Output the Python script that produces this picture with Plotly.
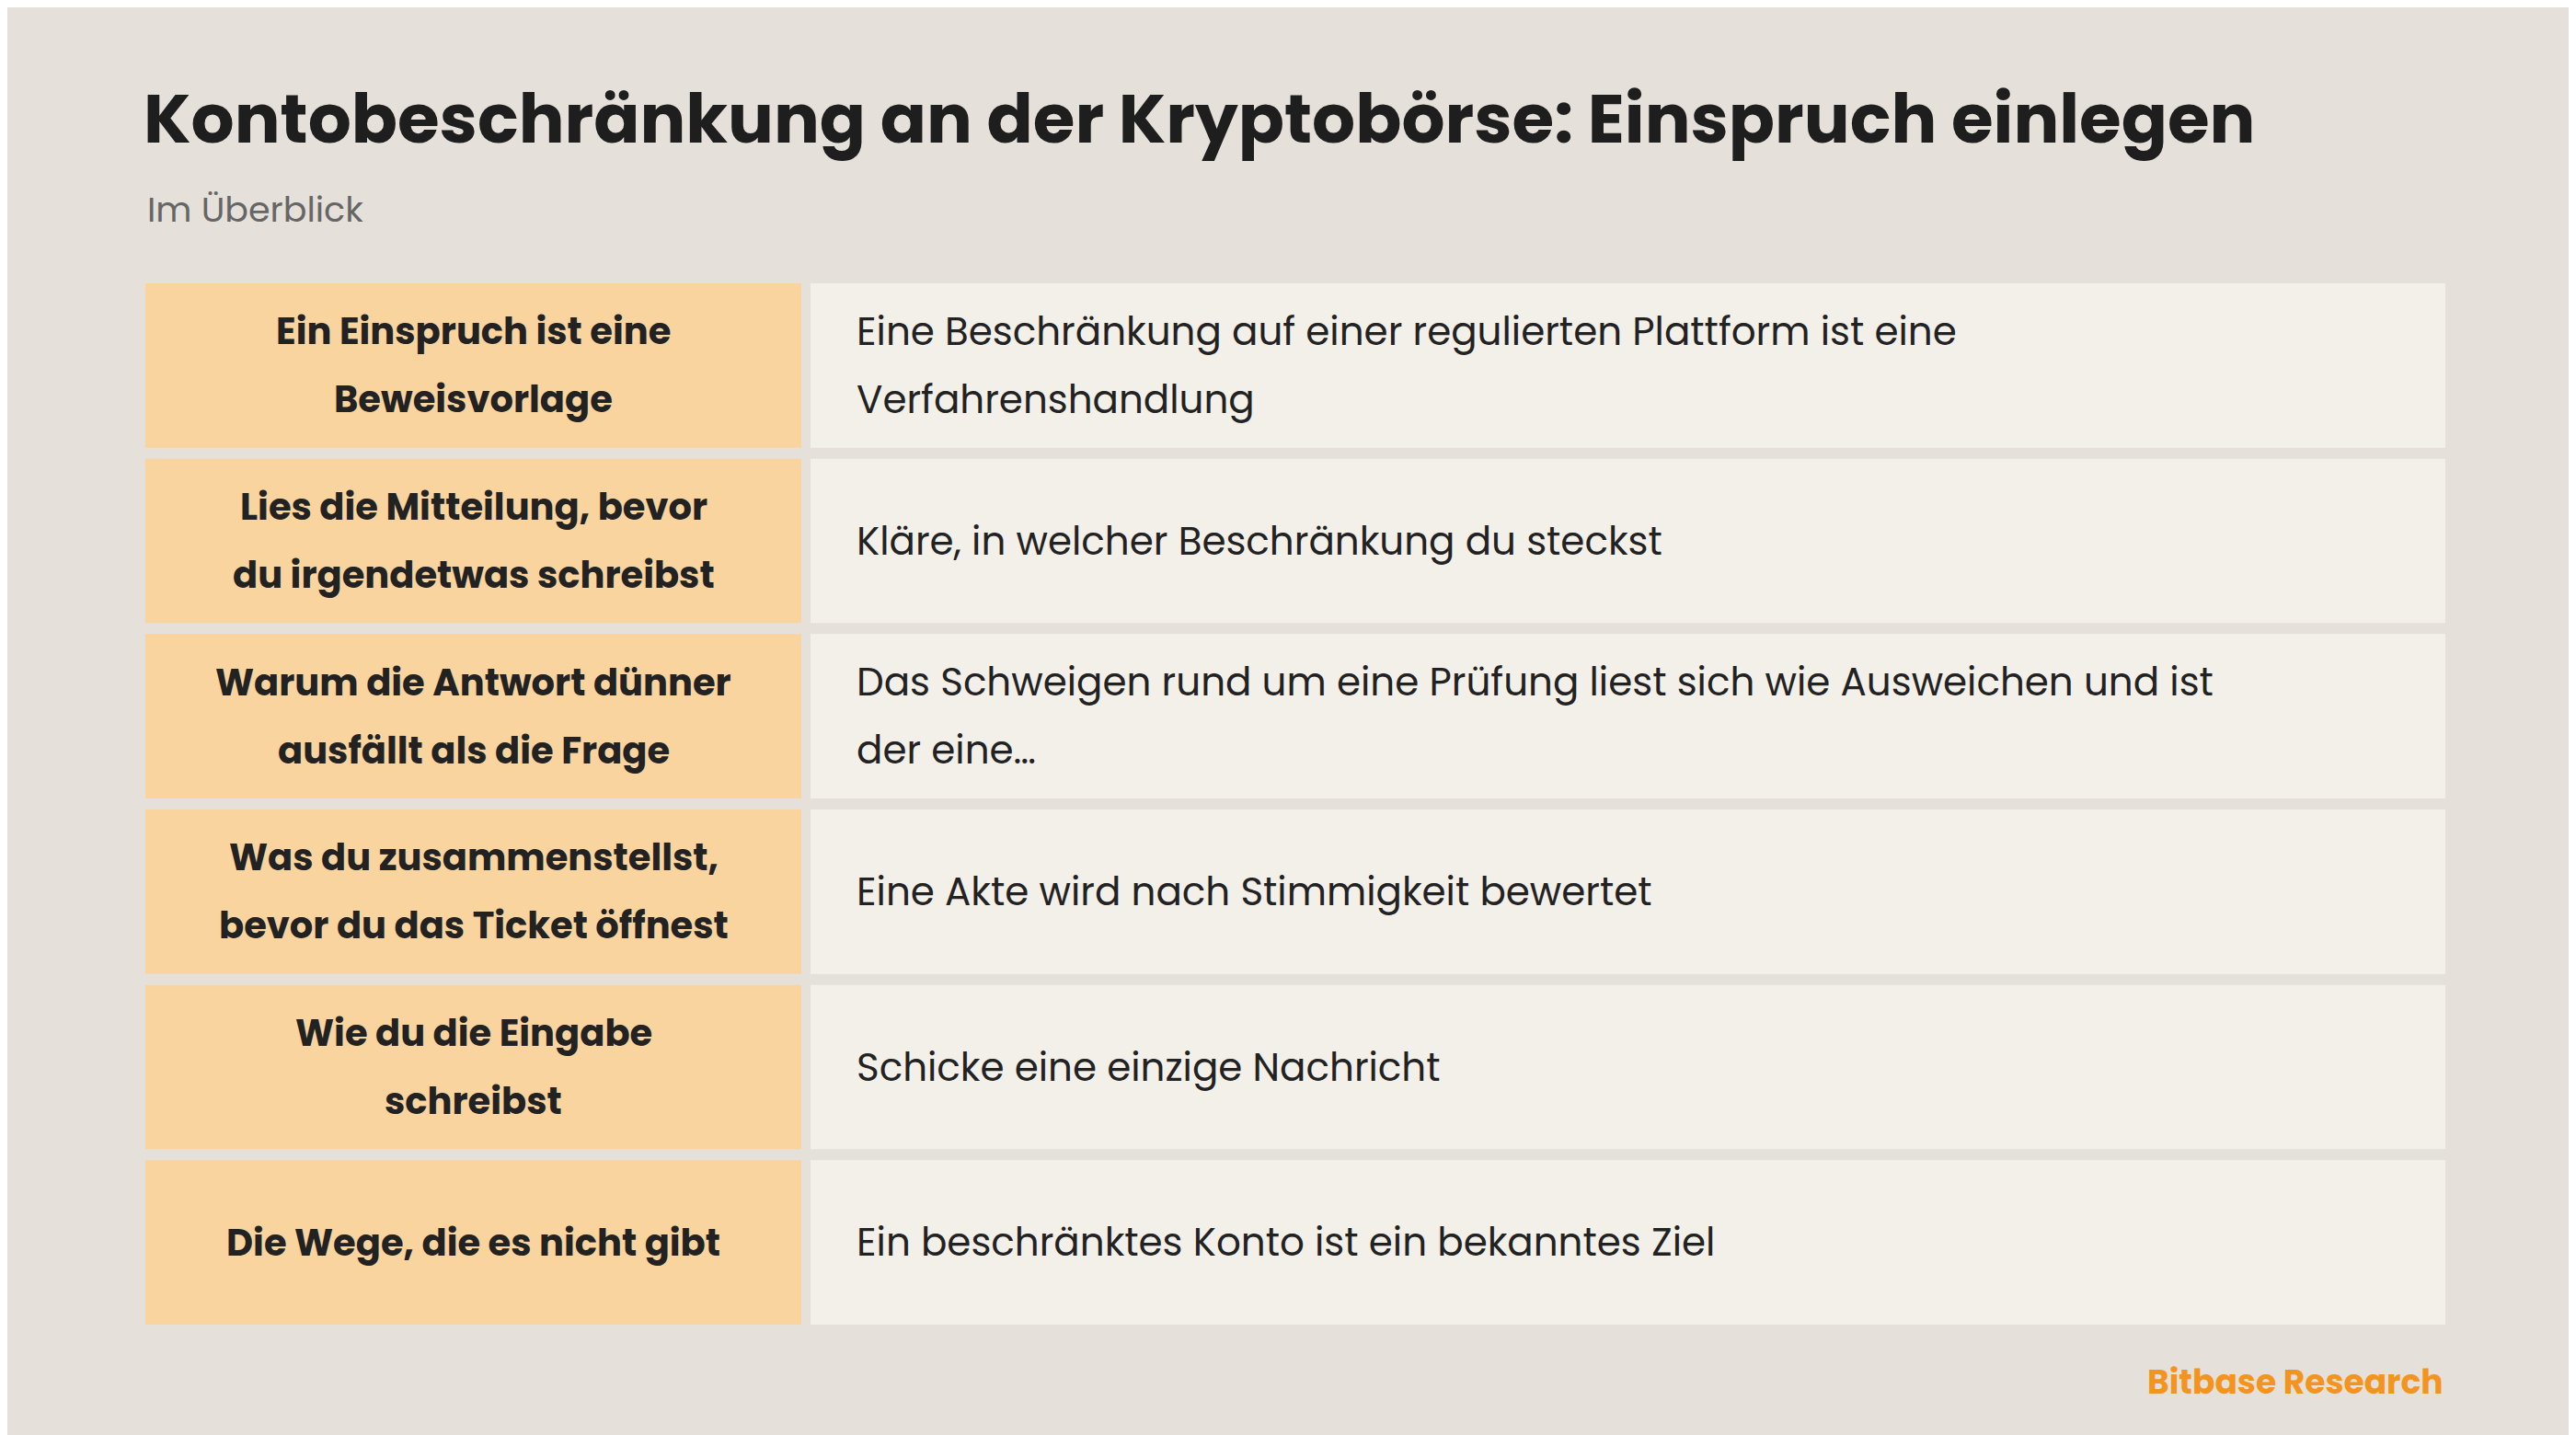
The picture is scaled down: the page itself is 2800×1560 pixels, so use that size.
import plotly.graph_objects as go

title = "Kontobeschränkung an der Kryptobörse: Einspruch einlegen"
subtitle = "Im Überblick"
source = "Bitbase Research"
topics = [
    ["Ein Einspruch ist eine", "Beweisvorlage"],
    ["Lies die Mitteilung, bevor", "du irgendetwas schreibst"],
    ["Warum die Antwort dünner", "ausfällt als die Frage"],
    ["Was du zusammenstellst,", "bevor du das Ticket öffnest"],
    ["Wie du die Eingabe", "schreibst"],
    ["Die Wege, die es nicht gibt"],
]
details = [
    ["Eine Beschränkung auf einer regulierten Plattform ist eine", "Verfahrenshandlung"],
    ["Kläre, in welcher Beschränkung du steckst"],
    ["Das Schweigen rund um eine Prüfung liest sich wie Ausweichen und ist", "der eine…"],
    ["Eine Akte wird nach Stimmigkeit bewertet"],
    ["Schicke eine einzige Nachricht"],
    ["Ein beschränktes Konto ist ein bekanntes Ziel"],
]

BG = "#E5E0DA"; LEFT = "#F9D49E"; RIGHT = "#F3F0EA"; INK = "#222222"
FONT = "Poppins, Inter, Lato, sans-serif"
W, H = 2800, 1560
top, bottom, gap = 300, 1432, 12
x0, xs, x1 = 150, 863, 2650
pitch = (bottom - top + gap) / len(topics)
lh = 74

fig = go.Figure()
shapes, anns = [], []
for i, (t, d) in enumerate(zip(topics, details)):
    ya = top + i * pitch
    yb = ya + pitch - gap
    yc = (ya + yb) / 2
    shapes.append(dict(type="rect", xref="x", yref="y", x0=x0, x1=xs, y0=ya, y1=yb,
                       fillcolor=LEFT, line_width=0, layer="below"))
    shapes.append(dict(type="rect", xref="x", yref="y", x0=xs + 10, x1=x1, y0=ya, y1=yb,
                       fillcolor=RIGHT, line_width=0, layer="below"))
    for k, line in enumerate(t):
        anns.append(dict(x=(x0 + xs) / 2, y=yc + (k - (len(t) - 1) / 2) * lh, text="<b>" + line + "</b>",
                         showarrow=False, xanchor="center", yanchor="middle",
                         font=dict(family=FONT, size=40, color=INK)))
    for k, line in enumerate(d):
        anns.append(dict(x=xs + 10 + 48, y=yc + (k - (len(d) - 1) / 2) * lh, text=line,
                         showarrow=False, xanchor="left", yanchor="middle",
                         font=dict(family=FONT, size=42, color=INK)))

anns.append(dict(x=x0 - 4, y=121, text="<b>" + title + "</b>", showarrow=False, xanchor="left",
                 yanchor="middle", font=dict(family=FONT, size=74, color="#1E1E1E")))
anns.append(dict(x=x0, y=219, text=subtitle, showarrow=False, xanchor="left", yanchor="middle",
                 font=dict(family=FONT, size=38, color="#666666")))
anns.append(dict(x=x1, y=1494, text="<b>" + source + "</b>", showarrow=False, xanchor="right",
                 yanchor="middle", font=dict(family=FONT, size=36, color="#F2941E")))

fig.update_layout(
    width=W, height=H, paper_bgcolor=BG, plot_bgcolor=BG,
    margin=dict(l=0, r=0, t=0, b=0), shapes=shapes, annotations=anns,
    xaxis=dict(range=[0, W], visible=False, fixedrange=True),
    yaxis=dict(range=[H, 0], visible=False, fixedrange=True),
    showlegend=False,
)
fig.write_html("out.html")
